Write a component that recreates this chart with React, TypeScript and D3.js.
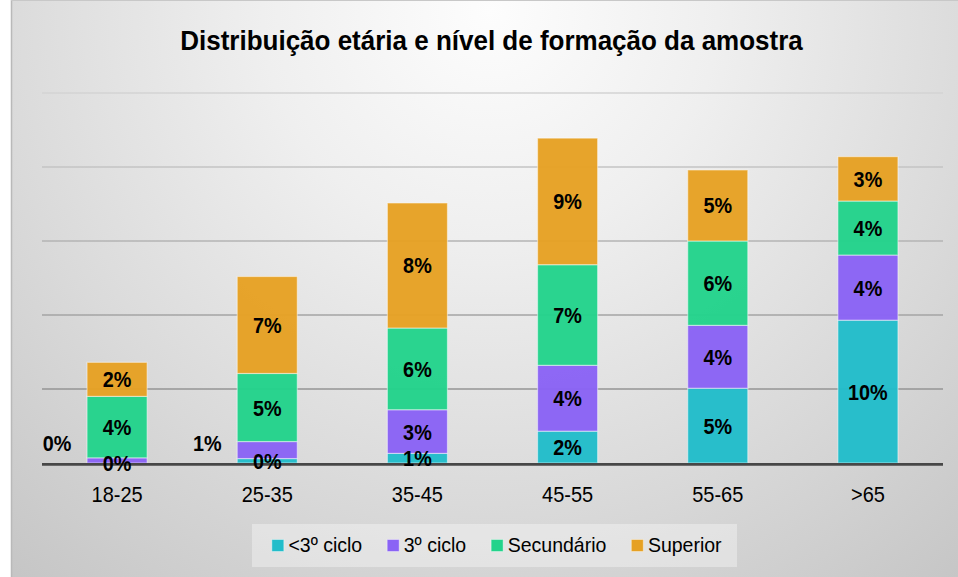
import React, { useEffect, useRef } from "react";
import * as d3 from "d3";

const categories = ["18-25", "25-35", "35-45", "45-55", "55-65", ">65"];
const seriesNames = ["<3º ciclo", "3º ciclo", "Secundário", "Superior"];
const cicloInf = [0.0, 0.3, 0.65, 2.15, 5.05, 9.65];
const ciclo3 = [0.35, 1.15, 2.95, 4.45, 4.25, 4.4];
const secundario = [4.15, 4.6, 5.52, 6.8, 5.7, 3.65];
const superior = [2.3, 6.55, 8.45, 8.55, 4.8, 3.0];
const yTicks = [0, 5, 10, 15, 20, 25];
const colors = ["#22BDCA", "#8A63F5", "#23D38B", "#E6A124"];
const title = "Distribuição etária e nível de formação da amostra";

const W = 958;
const H = 577;
const FONT = "'Liberation Sans', Arial, sans-serif";

export default function App() {
  const ref = useRef<SVGSVGElement | null>(null);

  useEffect(() => {
    const svg = d3.select(ref.current);
    svg.selectAll("*").remove();

    const defs = svg.append("defs");
    const bg = defs
      .append("radialGradient")
      .attr("id", "bg")
      .attr("gradientUnits", "userSpaceOnUse")
      .attr("cx", 490)
      .attr("cy", 10)
      .attr("r", 760);
    bg.append("stop").attr("offset", 0).attr("stop-color", "#fdfdfd");
    bg.append("stop").attr("offset", 0.3).attr("stop-color", "#efefef");
    bg.append("stop").attr("offset", 0.65).attr("stop-color", "#dadada");
    bg.append("stop").attr("offset", 1).attr("stop-color", "#c4c4c4");

    const gg = defs
      .append("linearGradient")
      .attr("id", "grid")
      .attr("gradientUnits", "userSpaceOnUse")
      .attr("x1", 0)
      .attr("y1", 90)
      .attr("x2", 0)
      .attr("y2", 400);
    gg.append("stop").attr("offset", 0).attr("stop-color", "#d4d4d4");
    gg.append("stop").attr("offset", 1).attr("stop-color", "#929292");

    // background
    svg.append("rect").attr("x", 0).attr("y", 0).attr("width", W).attr("height", H).attr("fill", "#ffffff");
    svg.append("rect").attr("x", 11).attr("y", 0).attr("width", W - 11).attr("height", H).attr("fill", "url(#bg)");
    svg.append("line").attr("x1", 11.5).attr("x2", 11.5).attr("y1", 0).attr("y2", H).attr("stroke", "#b9b9b9").attr("stroke-width", 1.5);
    svg.append("line").attr("x1", 11).attr("x2", W).attr("y1", 0.5).attr("y2", 0.5).attr("stroke", "#c8c8c8").attr("stroke-width", 1);

    // title
    svg
      .append("text")
      .attr("transform", "translate(491.5,50) scale(1,1.06)")
      .attr("text-anchor", "middle")
      .attr("font-family", FONT)
      .attr("font-weight", "bold")
      .attr("font-size", 26)
      .attr("fill", "#000")
      .text(title);

    const x = d3.scaleBand<string>().domain(categories).range([42, 943]).paddingInner(0.6).paddingOuter(0.3);
    const y = d3.scaleLinear().domain([0, 25]).range([463, 93]);

    // grid
    svg
      .append("g")
      .selectAll("line")
      .data(yTicks.filter((t) => t > 0))
      .join("line")
      .attr("x1", 42)
      .attr("x2", 943)
      .attr("y1", (d) => y(d))
      .attr("y2", (d) => y(d) + 0.001)
      .attr("stroke", "url(#grid)")
      .attr("stroke-width", 1.5);

    const rows = categories.map((c, i) => ({
      cat: c,
      s0: cicloInf[i],
      s1: ciclo3[i],
      s2: secundario[i],
      s3: superior[i],
    }));
    const keys = ["s0", "s1", "s2", "s3"];
    const stack = d3.stack<any>().keys(keys)(rows);

    const barsG = svg.append("g");
    stack.forEach((layer, li) => {
      barsG
        .append("g")
        .selectAll("rect")
        .data(layer)
        .join("rect")
        .attr("x", (d: any) => x(d.data.cat)!)
        .attr("width", x.bandwidth())
        .attr("y", (d: any) => y(d[1]))
        .attr("height", (d: any) => Math.max(0, y(d[0]) - y(d[1])))
        .attr("fill", colors[li])
        .attr("fill-opacity", 0.97)
        .attr("stroke", "#ffffff")
        .attr("stroke-opacity", 0.45)
        .attr("stroke-width", 1.2);
    });

    // baseline
    svg
      .append("line")
      .attr("x1", 42)
      .attr("x2", 943)
      .attr("y1", y(0) + 1.3)
      .attr("y2", y(0) + 1.3)
      .attr("stroke", "#474747")
      .attr("stroke-width", 2.8);

    // data labels
    const labelsG = svg.append("g");
    stack.forEach((layer, li) => {
      layer.forEach((d: any) => {
        const v = d[1] - d[0];
        const bx = x(d.data.cat)!;
        let cx = bx + x.bandwidth() / 2;
        let cy = (y(d[0]) + y(d[1])) / 2;
        if (li === 1 && v < 1.5) {
          cx = bx - 30;
          cy = y(1.35);
        }
        labelsG
          .append("text")
          .attr("transform", `translate(${cx},${cy + 8}) scale(1,1.13)`)
          .attr("text-anchor", "middle")
          .attr("font-family", FONT)
          .attr("font-weight", "bold")
          .attr("font-size", 19.8)
          .attr("fill", "#000")
          .text(`${Math.round(v)}%`);
      });
    });

    // x labels
    svg
      .append("g")
      .selectAll("text")
      .data(categories)
      .join("text")
      .attr("transform", (d) => `translate(${x(d)! + x.bandwidth() / 2},501.5) scale(1,1.06)`)
      .attr("text-anchor", "middle")
      .attr("font-family", FONT)
      .attr("font-size", 20)
      .attr("fill", "#000")
      .text((d) => d);

    // legend
    svg
      .append("rect")
      .attr("x", 252)
      .attr("y", 524)
      .attr("width", 485)
      .attr("height", 43)
      .attr("fill", "#ffffff")
      .attr("fill-opacity", 0.35);

    const legG = svg.append("g");
    const items = seriesNames.map((name, i) => {
      const g = legG.append("g");
      g.append("rect")
        .attr("x", 0)
        .attr("y", -12.5)
        .attr("width", 12)
        .attr("height", 12)
        .attr("fill", colors[i])
        .attr("stroke", "#ffffff")
        .attr("stroke-opacity", 0.4)
        .attr("stroke-width", 1);
      const t = g
        .append("text")
        .attr("transform", "translate(16.6,0) scale(1,1.06)")
        .attr("font-family", FONT)
        .attr("font-size", 19.5)
        .attr("fill", "#000")
        .text(name);
      const tw = (t.node() as SVGTextElement).getComputedTextLength();
      return { g, w: 16.6 + tw };
    });
    const gap = 25;
    const total = items.reduce((s, it) => s + it.w, 0) + gap * (items.length - 1);
    let cur = 496.7 - total / 2;
    items.forEach((it) => {
      it.g.attr("transform", `translate(${cur},552)`);
      cur += it.w + gap;
    });
  }, []);

  return (
    <svg
      ref={ref}
      width={W}
      height={H}
      style={{ position: "absolute", left: 0, top: 0, display: "block" }}
    />
  );
}
